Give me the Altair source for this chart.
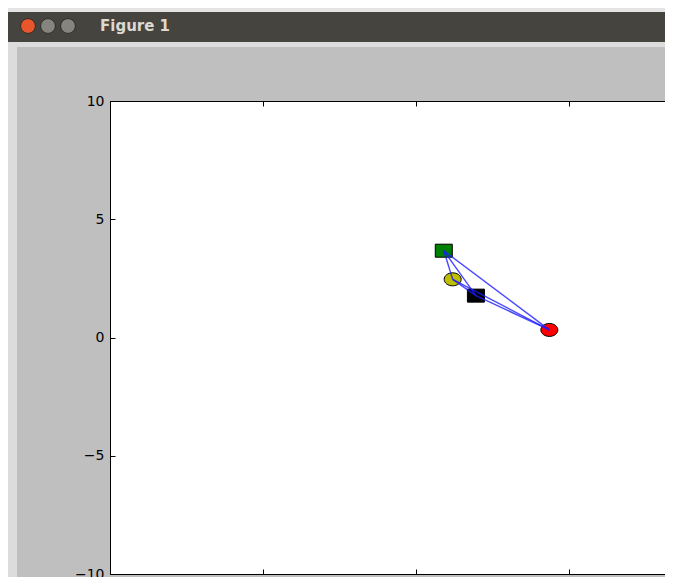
import altair as alt
import pandas as pd
from itertools import combinations

# ---- data ----
names = ["green_square", "yellow_circle", "black_square", "red_circle"]
xs = [0.91, 1.20, 1.96, 4.36]
ys = [3.67, 2.46, 1.77, 0.32]
fills = ["#008000", "#bfbf00", "#000000", "#ff0000"]
x_ticks = [-10, -5, 0, 5, 10]
y_ticks = [-10, -5, 0, 5, 10]
window_title = "Figure 1"

pts = pd.DataFrame({"name": names, "x": xs, "y": ys})
rows = []
for k, (i, j) in enumerate(combinations(range(len(names)), 2)):
    rows.append({"edge": k, "x": xs[i], "y": ys[i]})
    rows.append({"edge": k, "x": xs[j], "y": ys[j]})
edges = pd.DataFrame(rows)

W, H = 555, 473
xscale = alt.Scale(domain=[-10, 8.14], nice=False, zero=False)
yscale = alt.Scale(domain=[-10, 10], nice=False, zero=False)

SQ = "M-1,-0.765H1V0.765H-1Z"
EL = "M-1,0A1,0.765 0 1,0 1,0A1,0.765 0 1,0 -1,0Z"
shapes = [SQ, EL, SQ, EL]

common_axis = dict(title=None, grid=False, domainColor="black", tickColor="black",
                   domainWidth=1, tickWidth=1)

points = alt.Chart(pts).mark_point(filled=True, stroke="black", strokeWidth=1,
                                   size=289, opacity=1).encode(
    x=alt.X("x:Q", scale=xscale,
            axis=alt.Axis(orient="bottom", offset=-H, values=x_ticks, labels=False,
                          tickSize=5, **common_axis)),
    y=alt.Y("y:Q", scale=yscale,
            axis=alt.Axis(orient="right", offset=-W, values=y_ticks, labels=False,
                          tickSize=5, **common_axis)),
    fill=alt.Fill("name:N", scale=alt.Scale(domain=names, range=fills), legend=None),
    shape=alt.Shape("name:N", scale=alt.Scale(domain=names, range=shapes), legend=None),
)

lines = alt.Chart(edges).mark_line(color="#1a1aff", opacity=0.8, strokeWidth=1.4).encode(
    x=alt.X("x:Q", scale=xscale,
            axis=alt.Axis(orient="top", offset=-H, values=x_ticks, labels=False,
                          tickSize=5, **common_axis)),
    y=alt.Y("y:Q", scale=yscale,
            axis=alt.Axis(orient="left", values=y_ticks, tickSize=0, labelPadding=6,
                          labelFontSize=14, labelColor="black", labelFont="DejaVu Sans",
                          labelExpr="replace(datum.label, '-', '\u2212')",
                          **common_axis)),
    detail="edge:N",
)

one = pd.DataFrame({"a": [0]})

def band(x1, x2, y1, y2, color):
    return alt.Chart(one).mark_rect(color=color).encode(
        x=alt.value(x1), x2=alt.value(x2), y=alt.value(y1), y2=alt.value(y2))

chrome = [
    band(-102, 555, -93, -89, "#e4e4e4"),
    band(-102, 555, -89, -59, "#46443f"),
    band(-102, 555, -59, -54, "#dcdcdc"),
    band(-102, -93, -54, 476, "#dcdcdc"),
]
btn_names = ["close", "min", "max"]
buttons = alt.Chart(pd.DataFrame({"b": btn_names,
                                  "c": ["#e9562c", "#85847f", "#85847f"]})).mark_point(
    filled=True, opacity=1, size=220, stroke="#2e2d2a", strokeWidth=1).encode(
    x=alt.X("b:N", scale=alt.Scale(domain=btn_names, range=[-82, -42], padding=0),
            axis=None),
    y=alt.value(-75),
    fill=alt.Fill("c:N", scale=None),
)
title_text = alt.Chart(one).mark_text(align="left", baseline="middle", fontSize=15,
                                      fontWeight="bold", font="DejaVu Sans",
                                      color="#dcd9d2").encode(
    x=alt.value(-10), y=alt.value(-75), text=alt.value(window_title))

chart = alt.layer(*chrome, buttons, title_text, points, lines).resolve_axis(
    x="independent", y="independent"
).resolve_scale(x="shared").properties(
    width=W, height=H, background="#bfbfbf",
    padding={"left": 102, "top": 93, "right": 0, "bottom": 3},
    autosize="none",
).configure_view(stroke=None, fill="white")

chart.save("out.html", embed_options={"renderer": "svg", "actions": False})
